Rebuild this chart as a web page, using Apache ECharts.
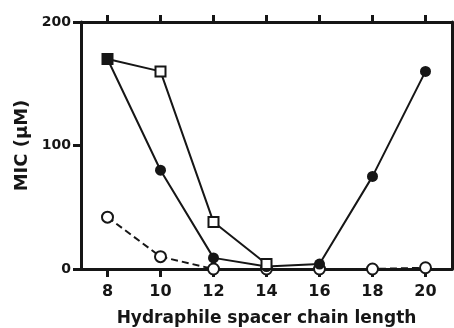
<!DOCTYPE html>
<html>
<head>
<meta charset="utf-8">
<script src="https://cdn.jsdelivr.net/npm/echarts@6/dist/echarts.min.js"></script>
<style>
html,body{margin:0;padding:0;background:#fff;}
#c{width:454px;height:328px;}
</style>
</head>
<body>
<div id="c"></div>
<script>
// Data
var chainLength = [8, 10, 12, 14, 16, 18, 20];
var xTicks = [8, 10, 12, 14, 16, 18, 20];
var filledCircles = [170, 80, 9, 2, 4, 75, 160];
var openSquares = [170, 160, 38, 4];
var openCircles = [42, 10, 0, 0, 0, 0, 1];

function pairs(xs, ys) {
  var out = [];
  for (var i = 0; i < ys.length; i++) out.push([xs[i], ys[i]]);
  return out;
}

var INK = '#161616';
var FONT = 'DejaVu Sans';

var chart = echarts.init(document.getElementById('c'), null, {renderer: 'canvas'});

var squareData = pairs(chainLength, openSquares).map(function (p, i) {
  if (i === 0) return {value: p, itemStyle: {color: INK, borderColor: INK}};
  return {value: p};
});

chart.setOption({
  animation: false,
  backgroundColor: '#fff',
  grid: {left: 81, top: 22, width: 371, height: 247, containLabel: false, outerBoundsMode: 'none'},
  xAxis: [{
    type: 'value', min: 7, max: 21, position: 'bottom',
    axisLine: {show: true, onZero: false, lineStyle: {color: INK, width: 3}},
    axisTick: {show: true, inside: false, customValues: xTicks, length: 8, lineStyle: {color: INK, width: 3}},
    axisLabel: {show: true, customValues: xTicks, margin: 15,
      fontFamily: FONT, fontWeight: 'bold', fontSize: 16, color: INK},
    splitLine: {show: false},
    name: 'Hydraphile spacer chain length', nameLocation: 'middle', nameGap: 41,
    nameTextStyle: {fontFamily: FONT, fontWeight: 'bold', fontSize: 17, color: INK}
  }, {
    type: 'value', min: 7, max: 21, position: 'top',
    axisLine: {show: true, onZero: false, lineStyle: {color: INK, width: 3}},
    axisTick: {show: true, inside: false, customValues: xTicks, length: 7, lineStyle: {color: INK, width: 3}},
    axisLabel: {show: false},
    splitLine: {show: false}
  }],
  yAxis: [{
    type: 'value', min: 0, max: 200, interval: 100, position: 'left',
    axisLine: {show: true, onZero: false, lineStyle: {color: INK, width: 3}},
    axisTick: {show: true, inside: false, length: 8, lineStyle: {color: INK, width: 3}},
    axisLabel: {show: true, margin: 10,
      fontFamily: FONT, fontWeight: 'bold', fontSize: 14, color: INK},
    splitLine: {show: false},
    name: 'MIC (μM)', nameLocation: 'middle', nameGap: 50, nameRotate: 90,
    nameTextStyle: {fontFamily: FONT, fontWeight: 'bold', fontSize: 18, color: INK}
  }, {
    type: 'value', min: 0, max: 200, position: 'right',
    axisLine: {show: true, onZero: false, lineStyle: {color: INK, width: 3}},
    axisTick: {show: false}, axisLabel: {show: false}, splitLine: {show: false}
  }],
  series: [{
    type: 'line', name: 'open circles', z: 2,
    data: pairs(chainLength, openCircles),
    symbol: 'circle', symbolSize: 11,
    lineStyle: {color: INK, width: 2, type: [7, 4]},
    itemStyle: {color: '#fff', borderColor: INK, borderWidth: 2}
  }, {
    type: 'line', name: 'filled circles', z: 3,
    data: pairs(chainLength, filledCircles),
    symbol: 'circle', symbolSize: 11,
    lineStyle: {color: INK, width: 2},
    itemStyle: {color: INK, borderColor: INK, borderWidth: 0}
  }, {
    type: 'line', name: 'open squares', z: 4,
    data: squareData,
    symbol: 'rect', symbolSize: 10,
    lineStyle: {color: INK, width: 2},
    itemStyle: {color: '#fff', borderColor: INK, borderWidth: 2}
  }]
});
</script>
</body>
</html>
